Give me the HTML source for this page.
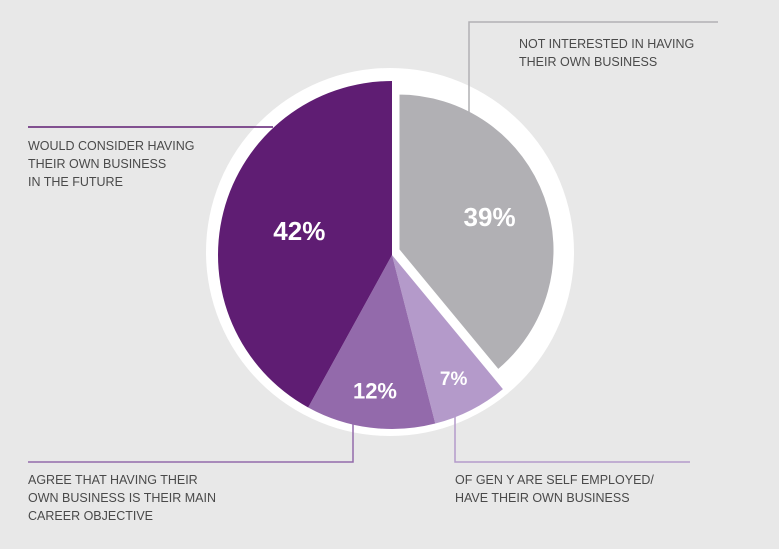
<!DOCTYPE html>
<html><head><meta charset="utf-8"><style>
body{margin:0;background:#e8e8e8;}
svg{display:block;font-family:"Liberation Sans",sans-serif;}
.lbl{font-size:12.5px;fill:#4a4a4a;}
.pct{font-size:26px;font-weight:bold;fill:#fff;}
</style></head><body>
<svg width="779" height="549">
<rect width="779" height="549" fill="#e8e8e8"/>
<circle cx="390" cy="252" r="184" fill="#fff"/>
<g id="slices"></g>
<g fill="none" stroke-width="1.5">
<polyline points="469,152 469,22 718,22" stroke="#b1b0b4"/>
<polyline points="28,127 273,127" stroke="#5f1d73"/>
<polyline points="353,420 353,462 28,462" stroke="#936aab"/>
<polyline points="455,412 455,462 690,462" stroke="#b49aca"/>
</g>
<text class="lbl"><tspan x="519" y="48">NOT INTERESTED IN HAVING</tspan><tspan x="519" y="66">THEIR OWN BUSINESS</tspan></text>
<text class="lbl"><tspan x="28" y="150">WOULD CONSIDER HAVING</tspan><tspan x="28" y="168">THEIR OWN BUSINESS</tspan><tspan x="28" y="186">IN THE FUTURE</tspan></text>
<text class="lbl"><tspan x="28" y="484">AGREE THAT HAVING THEIR</tspan><tspan x="28" y="502">OWN BUSINESS IS THEIR MAIN</tspan><tspan x="28" y="520">CAREER OBJECTIVE</tspan></text>
<text class="lbl"><tspan x="455" y="484">OF GEN Y ARE SELF EMPLOYED/</tspan><tspan x="455" y="502">HAVE THEIR OWN BUSINESS</tspan></text>
</svg>
<script>
const categories=["Not interested","Self employed","Agree main objective","Would consider"];
const values=[39,7,12,42];
const labels=["39%","7%","12%","42%"];
const colors=["#b1b0b4","#b49aca","#936aab","#5f1d73"];
const ns="http://www.w3.org/2000/svg";
const g=document.getElementById('slices');
const total=values.reduce((a,b)=>a+b,0);
let a0=0;
values.forEach((v,i)=>{
  const a1=a0+v/total*2*Math.PI;
  let cx=392,cy=255,r=174;
  if(i===0){cx=398;cy=250;r=157;}
  const p=(a)=>[cx+r*Math.sin(a),cy-r*Math.cos(a)];
  const s=p(a0),e=p(a1);
  const large=(a1-a0)>Math.PI?1:0;
  const path=document.createElementNS(ns,'path');
  path.setAttribute('d',`M${cx},${cy}L${s[0]},${s[1]}A${r},${r} 0 ${large} 1 ${e[0]},${e[1]}Z`);
  path.setAttribute('fill',colors[i]);
  if(i===0){path.setAttribute('stroke','#fff');path.setAttribute('stroke-width','3');}
  
  
  g.appendChild(path);
  const m=(a0+a1)/2;
  const lr=i===0?r*0.62:(i===3?r*0.55:r*0.78);
  const t=document.createElementNS(ns,'text');
  t.setAttribute('x',cx+lr*Math.sin(m));
  t.setAttribute('y',cy-lr*Math.cos(m)+9);
  t.setAttribute('text-anchor','middle');
  t.setAttribute('class','pct');
  if(i===1||i===2)t.setAttribute('style','font-size:'+(i===1?19:22)+'px');
  t.textContent=labels[i];
  
  
  g.appendChild(t);
  a0=a1;
});
</script>
</body></html>
